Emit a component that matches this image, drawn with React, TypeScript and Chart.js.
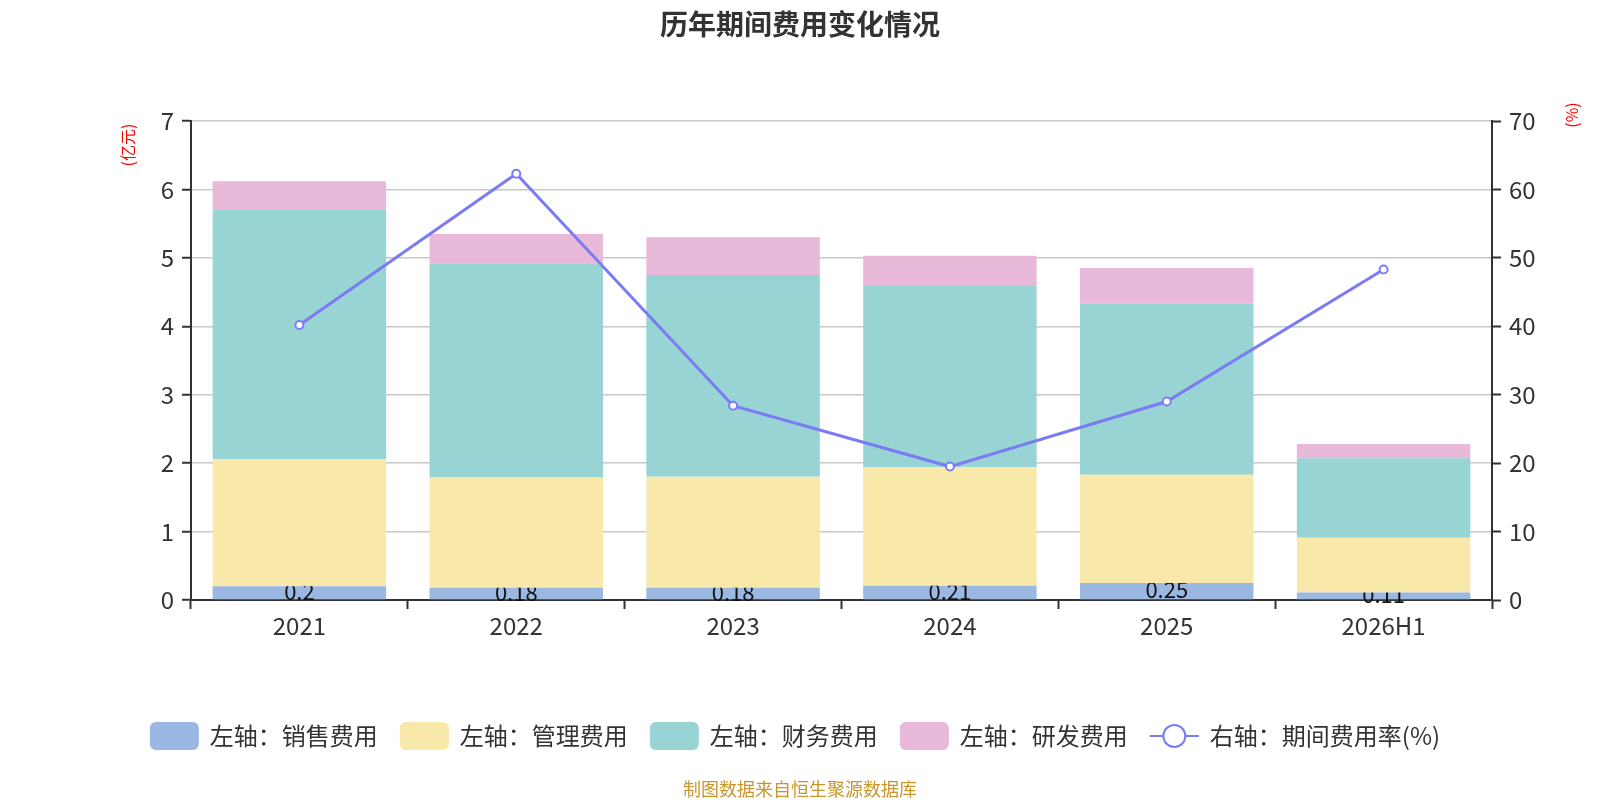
import { useEffect, useRef } from "react"
import { Chart, registerables } from "chart.js"

Chart.register(...registerables)

const FONT = "'Noto Sans CJK SC', 'Noto Sans', sans-serif"

// 年份
const categories = ["2021", "2022", "2023", "2024", "2025", "2026H1"]

// 亿元
const salesCost = [0.2, 0.18, 0.18, 0.21, 0.25, 0.11]
const adminCost = [1.86, 1.61, 1.62, 1.73, 1.58, 0.8]
const financeCost = [3.65, 3.13, 2.95, 2.65, 2.5, 1.16]
const rdCost = [0.41, 0.43, 0.55, 0.44, 0.52, 0.21]

// %
const expenseRate = [40.2, 62.3, 28.4, 19.5, 29.0, 48.3]

const leftTicks = [0, 1, 2, 3, 4, 5, 6, 7]
const rightTicks = [0, 10, 20, 30, 40, 50, 60, 70]

const LINE_COLOR = "#7b7cf4"

// 标题、单位、图例、脚注和柱上数值
const decorPlugin = {
  id: "decor",
  afterDatasetDraw(chart: any, args: any) {
    if (args.index !== 0) return
    const ctx = chart.ctx
    args.meta.data.forEach((bar: any, i: number) => {
      ctx.save()
      // 上方的管理费用柱会盖住文字的上半部分
      ctx.beginPath()
      ctx.rect(bar.x - 100, bar.y, 200, 100)
      ctx.clip()
      ctx.font = `22px ${FONT}`
      ctx.fillStyle = "#111"
      ctx.textAlign = "center"
      ctx.textBaseline = "middle"
      const cy = (bar.y + bar.base) / 2
      ctx.fillText(String(salesCost[i]), bar.x, cy - 1)
      ctx.restore()
    })
  },
  afterDraw(chart: any) {
    const ctx = chart.ctx
    const w = chart.width
    ctx.save()

    // 标题
    ctx.fillStyle = "#333"
    ctx.font = `bold 28px ${FONT}`
    ctx.textAlign = "center"
    ctx.textBaseline = "middle"
    ctx.fillText("历年期间费用变化情况", w / 2, 24)

    // 单位
    ctx.fillStyle = "#ff0000"
    ctx.font = `16px ${FONT}`
    ctx.save()
    ctx.translate(128, 145)
    ctx.rotate(-Math.PI / 2)
    ctx.fillText("(亿元)", 0, 0)
    ctx.restore()
    ctx.save()
    ctx.translate(1572, 115)
    ctx.rotate(-Math.PI / 2)
    ctx.fillText("(%)", 0, 0)
    ctx.restore()

    // 图例
    ctx.font = `24px ${FONT}`
    ctx.textAlign = "left"
    const items = chart.data.datasets.map((ds: any) => ({
      label: ds.label,
      color: ds.type === "line" ? ds.borderColor : ds.backgroundColor,
      isLine: ds.type === "line",
    }))
    const boxW = 49
    const boxH = 28
    const textGap = 11
    const itemGap = 22
    const widths = items.map((it: any) => boxW + textGap + ctx.measureText(it.label).width)
    const total = widths.reduce((a: number, b: number) => a + b, 0) + itemGap * (items.length - 1)
    let x = 795 - total / 2
    const cy = 736
    items.forEach((it: any, i: number) => {
      if (it.isLine) {
        ctx.strokeStyle = it.color
        ctx.lineWidth = 2
        ctx.beginPath()
        ctx.moveTo(x, cy)
        ctx.lineTo(x + boxW, cy)
        ctx.stroke()
        ctx.beginPath()
        ctx.arc(x + boxW / 2, cy, 11, 0, Math.PI * 2)
        ctx.fillStyle = "#fff"
        ctx.fill()
        ctx.stroke()
      } else {
        ctx.fillStyle = it.color
        ctx.beginPath()
        ctx.roundRect(x, cy - boxH / 2, boxW, boxH, 6)
        ctx.fill()
      }
      ctx.fillStyle = "#333"
      ctx.fillText(it.label, x + boxW + textGap, cy)
      x += widths[i] + itemGap
    })

    // 脚注
    ctx.fillStyle = "#c8962a"
    ctx.font = `18px ${FONT}`
    ctx.textAlign = "center"
    ctx.fillText("制图数据来自恒生聚源数据库", w / 2, 789)

    ctx.restore()
  },
}

function ExpenseChart() {
  const chartRef = useRef<HTMLCanvasElement>(null)
  const chartInstance = useRef<Chart | null>(null)

  useEffect(() => {
    if (!chartRef.current) return
    if (chartInstance.current) chartInstance.current.destroy()
    const ctx = chartRef.current.getContext("2d")
    if (!ctx) return

    const barCommon = {
      type: "bar" as const,
      yAxisID: "y",
      barPercentage: 0.8,
      categoryPercentage: 1,
      borderWidth: 0,
      order: 1,
    }

    chartInstance.current = new Chart(ctx, {
      type: "bar",
      data: {
        labels: categories,
        datasets: [
          { ...barCommon, label: "左轴：销售费用", data: salesCost, backgroundColor: "#9bb8e2" },
          { ...barCommon, label: "左轴：管理费用", data: adminCost, backgroundColor: "#f8e8aa" },
          { ...barCommon, label: "左轴：财务费用", data: financeCost, backgroundColor: "#98d4d4" },
          { ...barCommon, label: "左轴：研发费用", data: rdCost, backgroundColor: "#e8b9d9" },
          {
            type: "line",
            label: "右轴：期间费用率(%)",
            data: expenseRate,
            yAxisID: "y1",
            borderColor: LINE_COLOR,
            backgroundColor: "#fff",
            borderWidth: 3,
            pointRadius: 4,
            pointBorderWidth: 2,
            pointBackgroundColor: "#fff",
            pointBorderColor: LINE_COLOR,
            tension: 0,
            order: 0,
          } as any,
        ],
      },
      options: {
        responsive: false,
        animation: false,
        layout: { padding: { top: 121, left: 0, right: 0, bottom: 0 } },
        plugins: {
          legend: { display: false },
          title: { display: false },
          tooltip: { enabled: false },
        },
        scales: {
          x: {
            stacked: true,
            offset: true,
            afterFit: (scale: any) => {
              scale.height = 200
            },
            grid: {
              offset: true,
              drawOnChartArea: false,
              drawTicks: true,
              tickLength: 9,
              tickColor: "#333",
              tickWidth: 2,
            },
            border: { display: true, color: "#333", width: 2 },
            ticks: { color: "#333", font: { family: FONT, size: 24 }, padding: 2 },
          },
          y: {
            stacked: true,
            position: "left",
            min: 0,
            max: leftTicks[leftTicks.length - 1],
            afterFit: (scale: any) => {
              scale.width = 191
            },
            afterBuildTicks: (scale: any) => {
              scale.ticks = leftTicks.map((v) => ({ value: v }))
            },
            grid: {
              color: "#c8c8c8",
              lineWidth: 1.5,
              tickLength: 9,
              tickColor: "#333",
              tickWidth: 2,
            },
            border: { display: true, color: "#333", width: 2 },
            ticks: { color: "#333", font: { family: FONT, size: 24 }, padding: 8 },
          },
          y1: {
            position: "right",
            min: 0,
            max: rightTicks[rightTicks.length - 1],
            afterFit: (scale: any) => {
              scale.width = 108
            },
            afterBuildTicks: (scale: any) => {
              scale.ticks = rightTicks.map((v) => ({ value: v }))
            },
            grid: {
              drawOnChartArea: false,
              tickLength: 9,
              tickColor: "#333",
              tickWidth: 2,
            },
            border: { display: true, color: "#333", width: 2 },
            ticks: { color: "#333", font: { family: FONT, size: 24 }, padding: 8 },
          },
        },
      },
      plugins: [decorPlugin],
    })

    return () => {
      if (chartInstance.current) {
        chartInstance.current.destroy()
        chartInstance.current = null
      }
    }
  }, [])

  return (
    <div style={{ position: "absolute", left: 0, top: 0, width: 1600, height: 800, background: "#fff" }}>
      <canvas ref={chartRef} width={1600} height={800} style={{ width: 1600, height: 800 }} />
    </div>
  )
}

export default function App() {
  return <ExpenseChart />
}
